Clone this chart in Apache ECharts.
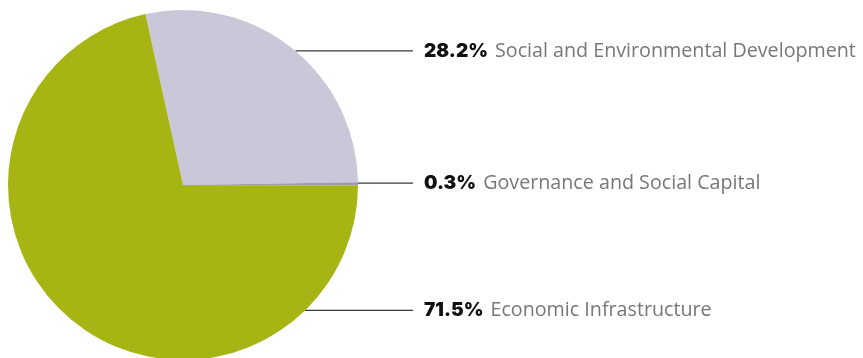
<!DOCTYPE html>
<html>
<head>
<meta charset="utf-8">
<script src="https://cdn.jsdelivr.net/npm/echarts@6/dist/echarts.min.js"></script>
<style>
  html, body { margin: 0; padding: 0; background: #ffffff; }
  #chart { width: 863px; height: 358px; }
</style>
</head>
<body>
<div id="chart"></div>
<script>
// Shares of funding by sector (percent)
const categories = [
  'Social and Environmental Development',
  'Governance and Social Capital',
  'Economic Infrastructure'
];
const shares = [28.2, 0.3, 71.5];

// Slice colours, in category order
const sliceColors = ['#cac8d8', '#9d9bab', '#a6b514'];

// Pie geometry (pixels)
const CX = 183, CY = 185, R = 175;
const START_ANGLE = 102.4;
// Where each label line stops and its text begins
const LINE_END_X = 413;
const TEXT_X = 424;
// Rim angle (degrees, ECharts convention) where each leader line leaves the pie
const anchorAngle = [50, 0.6, -45.8];

const chart = echarts.init(document.getElementById('chart'), null, { renderer: 'canvas' });

chart.setOption({
  animation: false,
  backgroundColor: '#ffffff',
  series: [{
    type: 'pie',
    center: [CX, CY],
    radius: R,
    startAngle: START_ANGLE,
    clockwise: true,
    avoidLabelOverlap: false,
    silent: true,
    data: categories.map((name, i) => ({
      name: name,
      value: shares[i],
      itemStyle: { color: sliceColors[i] }
    })),
    label: {
      show: true,
      position: 'outside',
      formatter: p => '{v|' + p.value.toFixed(1) + '%}{n|' + p.name + '}',
      rich: {
        v: { fontFamily: 'Inter', fontWeight: 900, fontSize: 19, color: '#111111' },
        n: { fontFamily: 'Open Sans', fontSize: 19.7, color: '#777777', padding: [0, 0, 0, 7] }
      }
    },
    labelLine: {
      show: true,
      length: 0,
      length2: 100,
      smooth: false,
      lineStyle: { color: '#3a3a3a', width: 1.3 }
    },
    labelLayout: function (params) {
      const a = anchorAngle[params.dataIndex] * Math.PI / 180;
      const y = CY - R * Math.sin(a);
      const edgeX = CX + R * Math.cos(a);
      return {
        x: TEXT_X,
        y: y,
        align: 'left',
        verticalAlign: 'middle',
        labelLinePoints: [[edgeX, y], [LINE_END_X, y]]
      };
    }
  }]
});
</script>
</body>
</html>
